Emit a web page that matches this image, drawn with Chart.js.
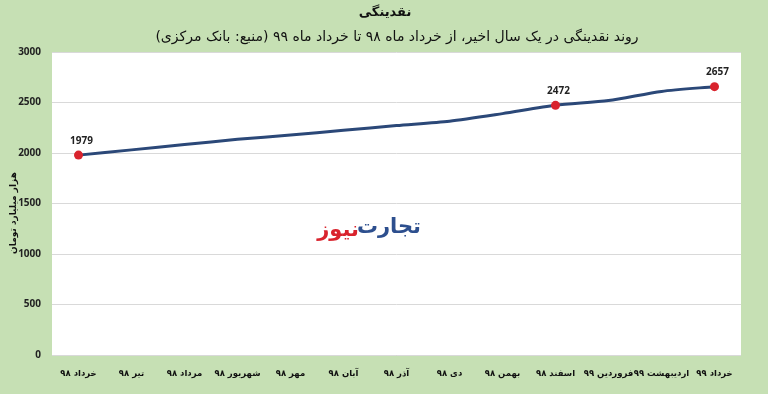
<!DOCTYPE html>
<html>
<head>
<meta charset="utf-8">
<script src="https://cdn.jsdelivr.net/npm/chart.js@4.4.1/dist/chart.umd.min.js"></script>
<style>
  html, body { margin: 0; padding: 0; background: #c6e0b4; }
  #wrap { width: 768px; height: 394px; }
</style>
</head>
<body>
<div id="wrap"><canvas id="liquidityChart" width="768" height="394"></canvas></div>
<script>
// months, left to right (oldest first)
const months = [
  "خرداد ۹۸", "تیر ۹۸", "مرداد ۹۸", "شهریور ۹۸", "مهر ۹۸", "آبان ۹۸", "آذر ۹۸",
  "دی ۹۸", "بهمن ۹۸", "اسفند ۹۸", "فروردین ۹۹", "اردیبهشت ۹۹", "خرداد ۹۹"
];
// liquidity, thousand billion toman
const liquidity = [1979, 2031, 2083, 2135, 2178, 2225, 2272, 2315, 2390, 2472, 2520, 2610, 2657];
// only these points get a marker and a value label
const markedPoints = [0, 9, 12];
const yTicks = [0, 500, 1000, 1500, 2000, 2500, 3000];

const titleText = "نقدینگی";
const subtitleText = "روند نقدینگی در یک سال اخیر، از خرداد ماه ۹۸ تا خرداد ماه ۹۹ (منبع: بانک مرکزی)";
const yAxisTitle = "هزار میلیارد تومان";

const farsiFont = "'DejaVu Sans', sans-serif";

const backgroundPlugin = {
  id: "background",
  beforeDraw(chart) {
    const { ctx, chartArea } = chart;
    ctx.save();
    ctx.fillStyle = "#c6e0b4";
    ctx.fillRect(0, 0, chart.width, chart.height);
    ctx.fillStyle = "#ffffff";
    ctx.fillRect(chartArea.left, chartArea.top, chartArea.right - chartArea.left, chartArea.bottom - chartArea.top);
    ctx.restore();
  }
};

const decorPlugin = {
  id: "decor",
  afterDatasetsDraw(chart) {
    const { ctx } = chart;
    ctx.save();
    // titles
    ctx.direction = "rtl";
    ctx.textAlign = "center";
    ctx.textBaseline = "middle";
    ctx.fillStyle = "#111";
    ctx.font = "bold 13px " + farsiFont;
    ctx.fillText(titleText, 385, 13);
    ctx.font = "14px " + farsiFont;
    ctx.fillText(subtitleText, 397, 37);

    // y axis title
    ctx.save();
    ctx.translate(14, 213);
    ctx.rotate(-Math.PI / 2);
    ctx.font = "bold 9px " + farsiFont;
    ctx.fillText(yAxisTitle, 0, 0);
    ctx.restore();

    // watermark
    ctx.textAlign = "right";
    ctx.font = "bold 21px " + farsiFont;
    ctx.fillStyle = "#2d4f8e";
    ctx.fillText("تجارت", 421, 228);
    const w = ctx.measureText("تجارت").width;
    ctx.fillStyle = "#d9232d";
    ctx.fillText("نیوز", 421 - w + 2, 231);

    // value labels
    ctx.direction = "ltr";
    ctx.textAlign = "center";
    ctx.textBaseline = "bottom";
    ctx.fillStyle = "#222";
    ctx.font = "bold 10px 'Open Sans', sans-serif";
    const meta = chart.getDatasetMeta(0);
    markedPoints.forEach(i => {
      const pt = meta.data[i];
      ctx.fillText(String(liquidity[i]), pt.x + 3, pt.y - 9);
    });
    ctx.restore();
  }
};

new Chart(document.getElementById("liquidityChart"), {
  type: "line",
  data: {
    labels: months,
    datasets: [{
      data: liquidity,
      borderColor: "#2b4878",
      borderWidth: 3,
      tension: 0.25,
      pointRadius: liquidity.map((v, i) => markedPoints.includes(i) ? 4.5 : 0),
      pointBackgroundColor: "#d9232d",
      pointBorderColor: "#d9232d",
      pointBorderWidth: 0
    }]
  },
  options: {
    responsive: false,
    animation: false,
    layout: { padding: { top: 52, right: 27, left: 0, bottom: 0 } },
    plugins: {
      legend: { display: false },
      tooltip: { enabled: false }
    },
    scales: {
      x: {
        offset: true,
        grid: { display: false },
        border: { display: false },
        ticks: {
          autoSkip: false,
          minRotation: 0,
          maxRotation: 0,
          padding: 6,
          color: "#111",
          font: { family: farsiFont, size: 8.5, weight: "bold" }
        },
        afterFit(scale) { scale.height = 39; }
      },
      y: {
        min: 0,
        max: 3000,
        afterBuildTicks(scale) { scale.ticks = yTicks.map(v => ({ value: v })); },
        grid: { color: "#d9d9d9", drawTicks: false },
        border: { display: false },
        ticks: {
          padding: 11,
          color: "#222",
          font: { family: "'Open Sans', sans-serif", size: 10, weight: "bold" },
          callback: v => String(v)
        },
        afterFit(scale) { scale.width = 52; }
      }
    }
  },
  plugins: [backgroundPlugin, decorPlugin]
});
</script>
</body>
</html>
